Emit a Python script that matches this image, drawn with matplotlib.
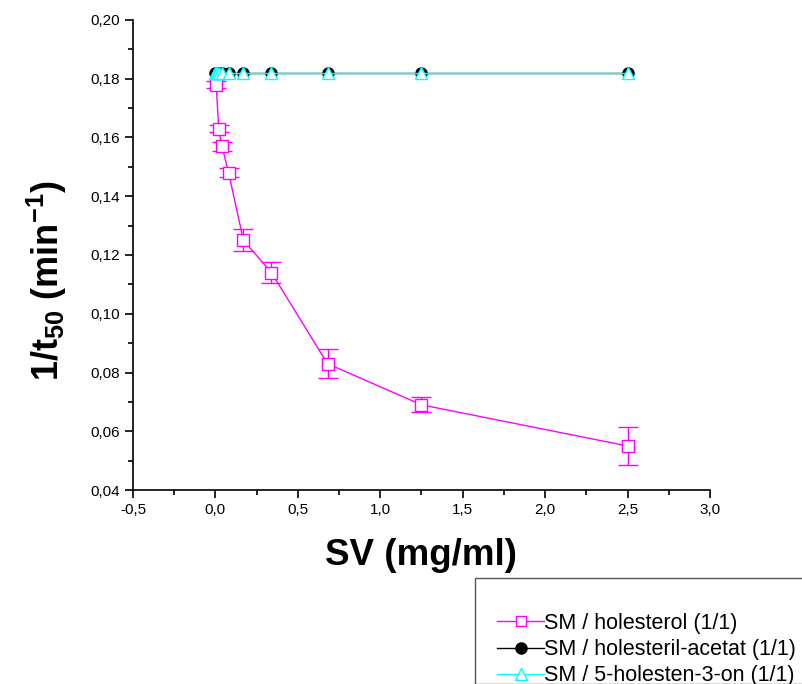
import matplotlib
matplotlib.use("Agg")
import matplotlib.pyplot as plt
from matplotlib.ticker import FuncFormatter, MultipleLocator
from matplotlib.lines import Line2D
from matplotlib.patches import Rectangle

plt.rcParams['font.family'] = ['Liberation Sans', 'DejaVu Sans']
plt.rcParams['mathtext.fontset'] = 'custom'
plt.rcParams['mathtext.rm'] = 'Liberation Sans:bold'
plt.rcParams['mathtext.bf'] = 'Liberation Sans:bold'
plt.rcParams['mathtext.it'] = 'Liberation Sans:bold'
plt.rcParams['mathtext.default'] = 'bf'

# data
x_chol = [0.005, 0.02, 0.04, 0.08, 0.17, 0.34, 0.68, 1.25, 2.5]
y_chol = [0.178, 0.163, 0.157, 0.148, 0.125, 0.114, 0.083, 0.069, 0.055]
err_chol = [0.0012, 0.0012, 0.0016, 0.0016, 0.0038, 0.0035, 0.0050, 0.0025, 0.0065]

x_acet = [0.0, 0.005, 0.01, 0.02, 0.04, 0.08, 0.17, 0.34, 0.68, 1.25, 2.5]
y_acet = [0.182] * 11

x_on = [0.0, 0.005, 0.01, 0.02, 0.04, 0.08, 0.17, 0.34, 0.68, 1.25, 2.5]
y_on = [0.182] * 11

labels = ["SM / holesterol (1/1)", "SM / holesteril-acetat (1/1)", "SM / 5-holesten-3-on (1/1)"]

fig = plt.figure(figsize=(8.02, 6.84), dpi=100)
ax = fig.add_axes([0.1658, 0.2836, 0.8853 - 0.1658, 0.9708 - 0.2836])

mag = '#ff00ff'
cy = '#00ffff'
ax.errorbar(x_chol, y_chol, yerr=err_chol, color=mag, lw=1, marker='s', ms=8.5,
            mfc='white', mec=mag, mew=1, capsize=7, elinewidth=1, capthick=1, zorder=3)
ax.plot(x_acet, y_acet, color='black', lw=1, marker='o', ms=8, mfc='black', mec='black', zorder=4)
ax.plot(x_on, y_on, color=cy, lw=1, marker='^', ms=9, mfc='white', mec=cy, mew=1, zorder=5)

ax.set_xlim(-0.5, 3.0)
ax.set_ylim(0.04, 0.20)
ax.xaxis.set_major_locator(MultipleLocator(0.5))
ax.xaxis.set_minor_locator(MultipleLocator(0.25))
ax.yaxis.set_major_locator(MultipleLocator(0.02))
ax.yaxis.set_minor_locator(MultipleLocator(0.01))
ax.xaxis.set_major_formatter(FuncFormatter(lambda v, p: f"{v:.1f}".replace('.', ',')))
ax.yaxis.set_major_formatter(FuncFormatter(lambda v, p: f"{v:.2f}".replace('.', ',')))
for s in ['top', 'right']:
    ax.spines[s].set_visible(False)
for s in ['left', 'bottom']:
    ax.spines[s].set_linewidth(1.2)
ax.tick_params(which='major', direction='out', length=6, width=1.2, labelsize=11)
ax.tick_params(which='minor', direction='out', length=3.5, width=1.2)

ax.set_xlabel("SV (mg/ml)", fontsize=26.5, fontweight='bold', labelpad=15)
ax.set_ylabel(r"1/t$_{50}$ (min$^{-1}$)", fontsize=26, fontweight='bold')
ax.yaxis.set_label_coords((69 - 133) / 577, (490 - 281) / 470)

# legend box
fig.patches.append(Rectangle((475 / 802, 0), 1, 1 - 578 / 684, transform=fig.transFigure,
                             fill=False, edgecolor='#555555', lw=1, zorder=1))
handles = [
    Line2D([], [], color=mag, lw=1, marker='s', ms=7, mfc='white', mec=mag),
    Line2D([], [], color='black', lw=1, marker='o', ms=8, mfc='black'),
    Line2D([], [], color=cy, lw=1, marker='^', ms=9, mfc='white', mec=cy),
]
fig.legend(handles, labels, loc='upper left', bbox_to_anchor=(497 / 802, 1 - 613 / 684),
           frameon=False, fontsize=15.5, handlelength=2.2, handletextpad=0.0,
           labelspacing=0.24, borderaxespad=0, borderpad=0)

fig.savefig("out.png", dpi=100)
